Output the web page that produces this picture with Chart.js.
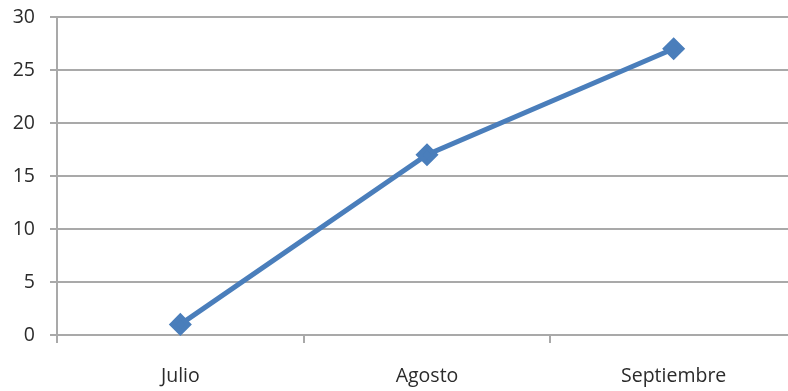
<!DOCTYPE html>
<html>
<head>
<meta charset="utf-8">
<script src="https://cdn.jsdelivr.net/npm/chart.js@4/dist/chart.umd.min.js"></script>
<style>
  html, body { margin: 0; padding: 0; background: #ffffff; overflow: hidden; }
  #wrap { width: 788px; height: 391px; overflow: hidden; }
  canvas { display: block; }
</style>
</head>
<body>
<div id="wrap"><canvas id="chart" width="810" height="391"></canvas></div>
<script>
// Monthly values
const categories = ['Julio', 'Agosto', 'Septiembre'];
const values = [1, 17, 27];
const yTicks = [0, 5, 10, 15, 20, 25, 30];

const gridColor = '#a9a9a9';
const textColor = '#2b2b2b';
const lineBlue = '#4a7ebb';
const font = { family: "'Open Sans', 'Liberation Sans', sans-serif", size: 19.5 };

new Chart(document.getElementById('chart'), {
  type: 'line',
  data: {
    labels: categories,
    datasets: [{
      data: values,
      borderColor: lineBlue,
      backgroundColor: lineBlue,
      borderWidth: 5,
      pointStyle: 'rectRot',
      pointRadius: 8,
      pointHoverRadius: 8,
      tension: 0,
      clip: false
    }]
  },
  options: {
    responsive: false,
    animation: false,
    layout: { padding: { top: 17, right: 3, left: 0, bottom: 0 } },
    plugins: { legend: { display: false }, tooltip: { enabled: false } },
    scales: {
      x: {
        offset: true,
        grid: {
          offset: true,
          drawOnChartArea: false,
          drawTicks: true,
          tickLength: 8,
          color: gridColor,
          lineWidth: 2
        },
        border: { display: true, color: gridColor, width: 2 },
        ticks: { color: textColor, font: font, padding: 22, maxRotation: 0 },
        afterFit: (s) => {
          s.height = 391 - 335;
          s.paddingLeft = 0;
          s.paddingRight = 0;
        }
      },
      y: {
        min: 0,
        max: 30,
        afterBuildTicks: (s) => { s.ticks = yTicks.map(v => ({ value: v })); },
        grid: { color: gridColor, lineWidth: 2, tickLength: 7, drawTicks: true },
        border: { display: true, color: gridColor, width: 2 },
        ticks: { color: textColor, font: font, padding: 15 },
        afterFit: (s) => {
          s.width = 57;
          s.paddingTop = 0;
          s.paddingBottom = 0;
        }
      }
    }
  }
});
</script>
</body>
</html>
